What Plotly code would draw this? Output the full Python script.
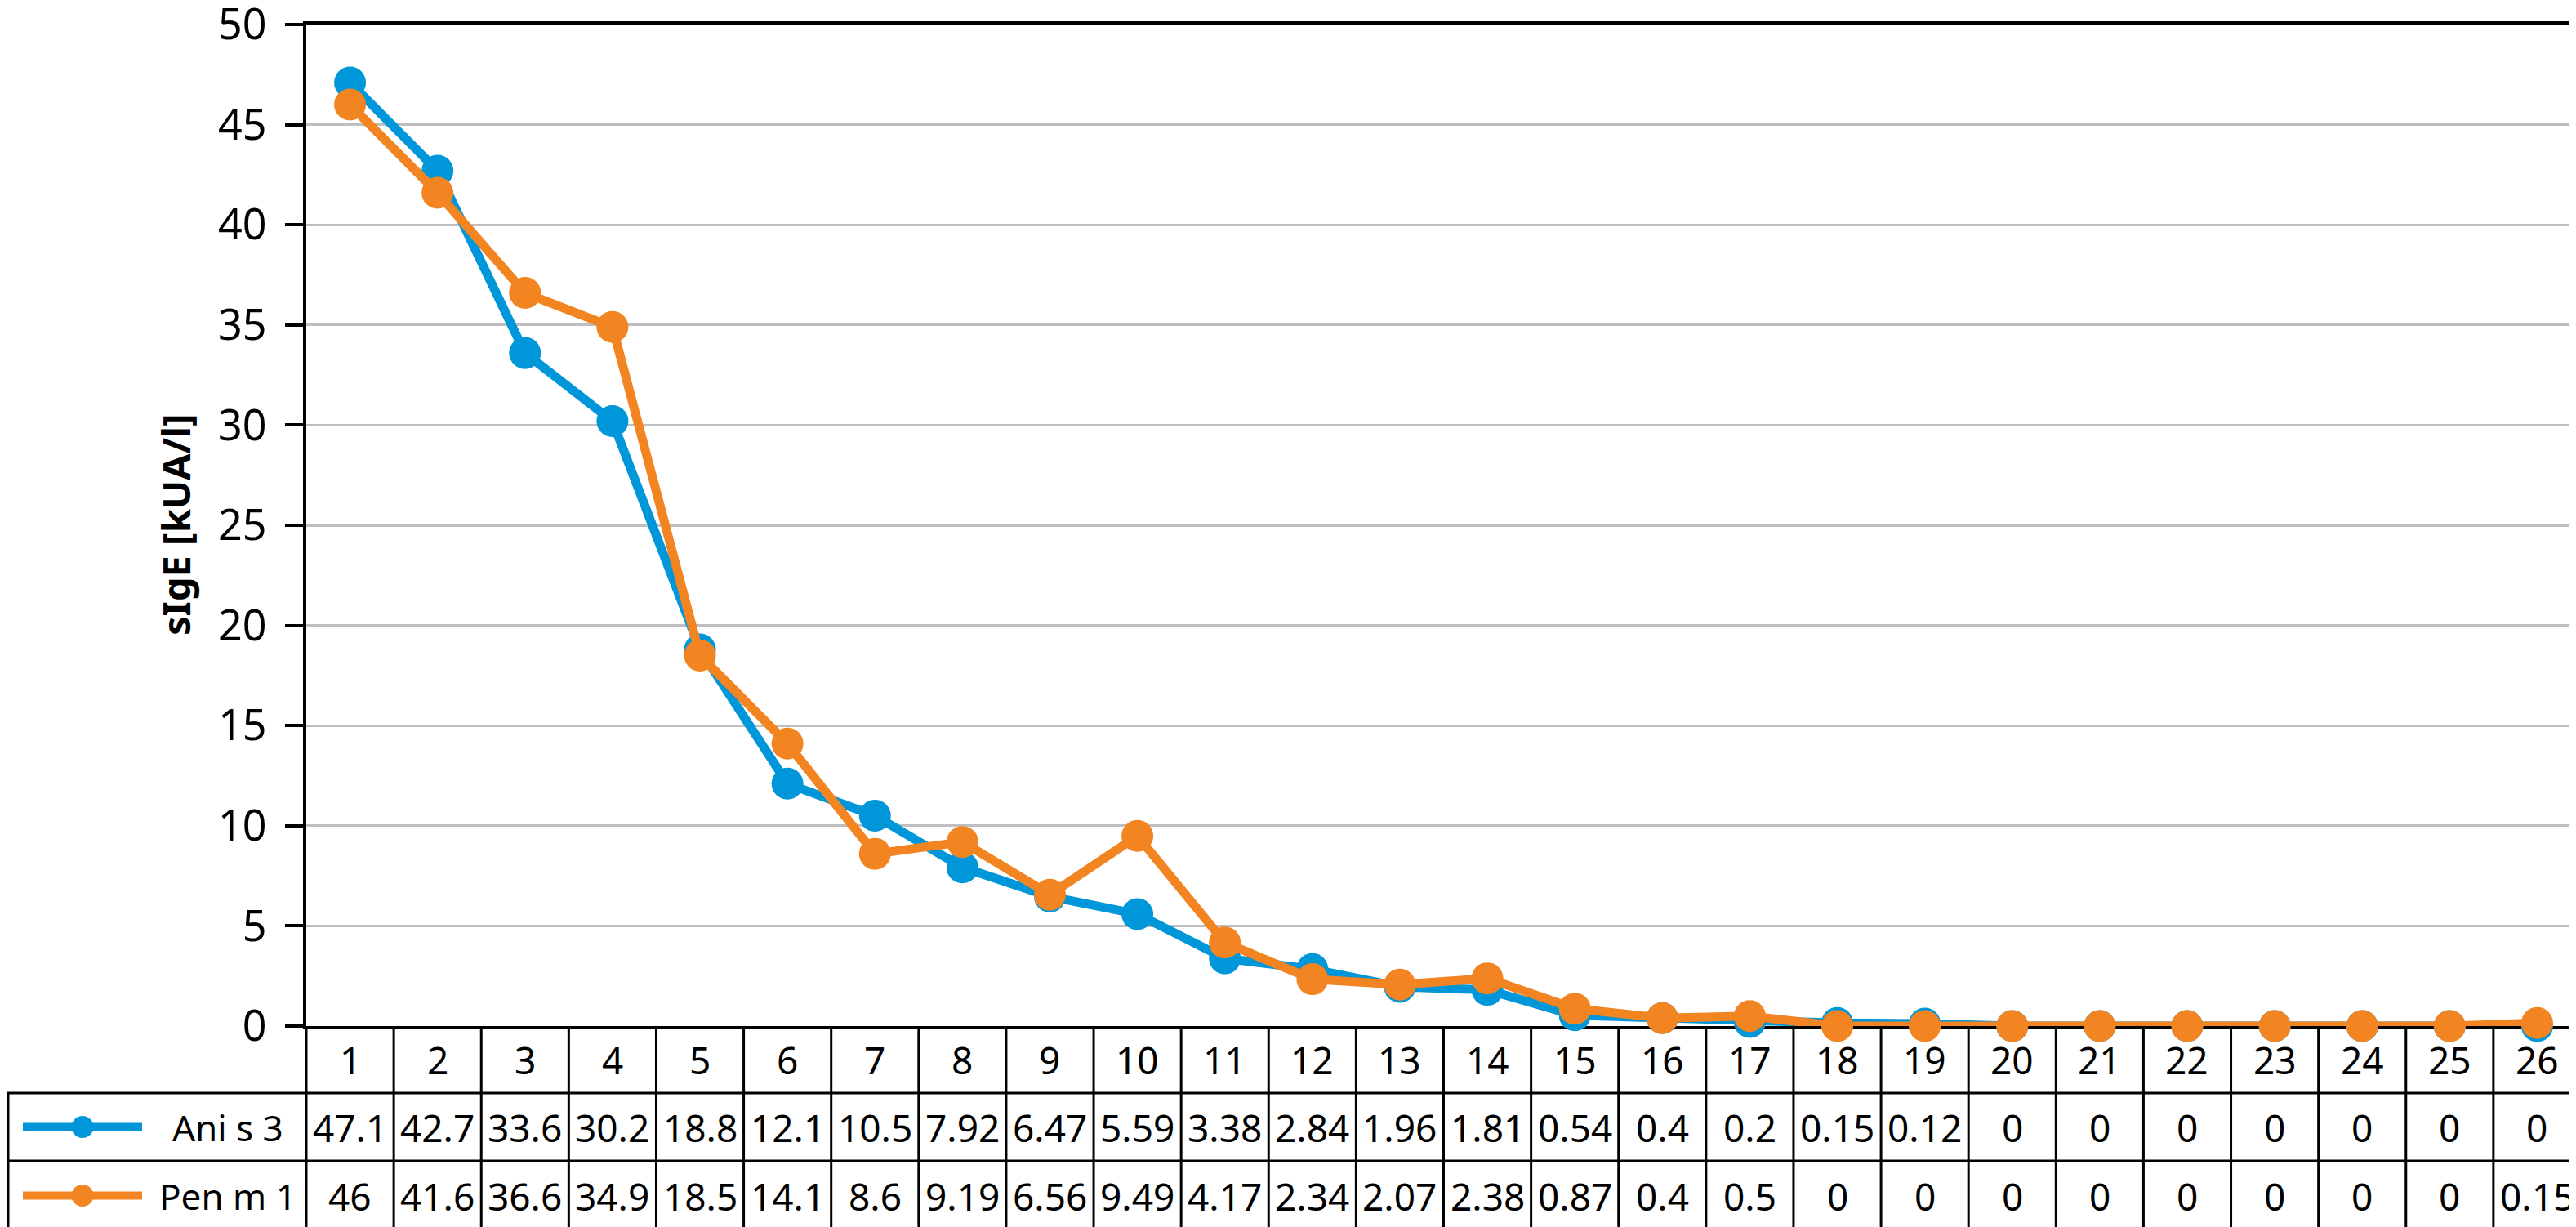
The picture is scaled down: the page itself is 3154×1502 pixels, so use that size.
import plotly.graph_objects as go

categories = list(range(1, 27))
series_names = ["Ani s 3", "Pen m 1"]
ani_s3 = [47.1, 42.7, 33.6, 30.2, 18.8, 12.1, 10.5, 7.92, 6.47, 5.59, 3.38, 2.84, 1.96,
          1.81, 0.54, 0.4, 0.2, 0.15, 0.12, 0, 0, 0, 0, 0, 0, 0]
pen_m1 = [46, 41.6, 36.6, 34.9, 18.5, 14.1, 8.6, 9.19, 6.56, 9.49, 4.17, 2.34, 2.07,
          2.38, 0.87, 0.4, 0.5, 0, 0, 0, 0, 0, 0, 0, 0, 0.15]
colors = ["#0096DA", "#F28522"]
y_title = "sIgE [kUA/l]"

W, H = 3154, 1502
L, R, T, B = 367, 3152, 22, 1248
PW, PH = R - L, B - T


def px_x(px):
    return (px - L) / PW


def px_y(py):
    return (B - py) / PH


FONT = "Liberation Sans Narrow, Noto Sans, sans-serif"
TFONT = "Noto Sans, sans-serif"

fig = go.Figure()
for name, vals, col in zip(series_names, [ani_s3, pen_m1], colors):
    fig.add_trace(go.Scatter(
        x=categories, y=vals, name=name, mode="lines+markers",
        line=dict(color=col, width=11),
        marker=dict(color=col, size=39),
        cliponaxis=False, showlegend=False,
    ))

shapes = []
annotations = []
row_edges = [1248, 1330, 1413, 1498]
lw = 3
# horizontal table lines
for py in row_edges[1:]:
    shapes.append(dict(type="line", xref="paper", yref="paper",
                       x0=px_x(1), x1=1, y0=px_y(py), y1=px_y(py),
                       line=dict(color="black", width=lw)))
# vertical lines
shapes.append(dict(type="line", xref="paper", yref="paper", x0=px_x(2), x1=px_x(2),
                   y0=px_y(1330), y1=px_y(1498), line=dict(color="black", width=lw)))
shapes.append(dict(type="line", xref="paper", yref="paper", x0=0, x1=0,
                   y0=px_y(1248), y1=px_y(1498), line=dict(color="black", width=lw)))
shapes.append(dict(type="line", xref="paper", yref="paper", x0=1, x1=1,
                   y0=px_y(1248), y1=px_y(1498), line=dict(color="black", width=lw)))
for c in categories[:-1]:
    shapes.append(dict(type="line", xref="x", yref="paper", x0=c + 0.5, x1=c + 0.5,
                       y0=px_y(1248), y1=px_y(1498), line=dict(color="black", width=lw)))

row_centers = [(row_edges[i] + row_edges[i + 1]) / 2 for i in range(3)]
tfs = 46
for c in categories:
    annotations.append(dict(x=c, y=px_y(row_centers[0]), xref="x", yref="paper",
                            text=str(c), showarrow=False, xanchor="center", yanchor="middle",
                            font=dict(family=FONT, size=tfs, color="black")))
for r, vals in enumerate([ani_s3, pen_m1]):
    for c, v in zip(categories, vals):
        annotations.append(dict(x=c, y=px_y(row_centers[r + 1]), xref="x", yref="paper",
                                text=f"{v:g}", showarrow=False, xanchor="center",
                                yanchor="middle",
                                font=dict(family=FONT, size=tfs, color="black")))

# legend keys in the table
for r, (name, col) in enumerate(zip(series_names, colors)):
    yc = px_y(row_centers[r + 1])
    shapes.append(dict(type="line", xref="paper", yref="paper", x0=px_x(20), x1=px_x(166),
                       y0=yc, y1=yc, line=dict(color=col, width=10)))
    shapes.append(dict(type="circle", xref="paper", yref="paper",
                       xsizemode="pixel", ysizemode="pixel",
                       xanchor=px_x(93), yanchor=yc, x0=-13.5, x1=13.5, y0=-13.5, y1=13.5,
                       fillcolor=col, line=dict(width=0)))
    annotations.append(dict(x=px_x(271), y=yc, xref="paper", yref="paper", text=name,
                            showarrow=False, xanchor="center", yanchor="middle",
                            font=dict(family=TFONT, size=44, color="black")))

annotations.append(dict(x=px_x(207), y=0.5, xref="paper", yref="paper", text=f"<b>{y_title}</b>",
                        textangle=-90, showarrow=False, xanchor="center", yanchor="middle",
                        font=dict(family=TFONT, size=47, color="black")))

fig.update_layout(
    width=W, height=H,
    margin=dict(l=L, r=W - R, t=T, b=H - B, pad=0, autoexpand=False),
    paper_bgcolor="white", plot_bgcolor="white",
    shapes=shapes, annotations=annotations,
    xaxis=dict(range=[0.5, 26.5], showgrid=False, showticklabels=False, ticks="",
               showline=True, linecolor="black", linewidth=4, mirror=True,
               zeroline=False, layer="below traces", fixedrange=True, automargin=False),
    yaxis=dict(range=[0, 50], dtick=5, tick0=0, showgrid=True, gridcolor="#BFBFBF",
               gridwidth=3, ticks="outside", ticklen=22, tickwidth=4, tickcolor="black",
               showline=True, linecolor="black", linewidth=4, mirror=True,
               zeroline=False, layer="below traces", ticklabelstandoff=12,
               ticklabeloverflow="allow", automargin=False,
               tickfont=dict(family=TFONT, size=52, color="black")),
)

fig.write_html("out.html")
